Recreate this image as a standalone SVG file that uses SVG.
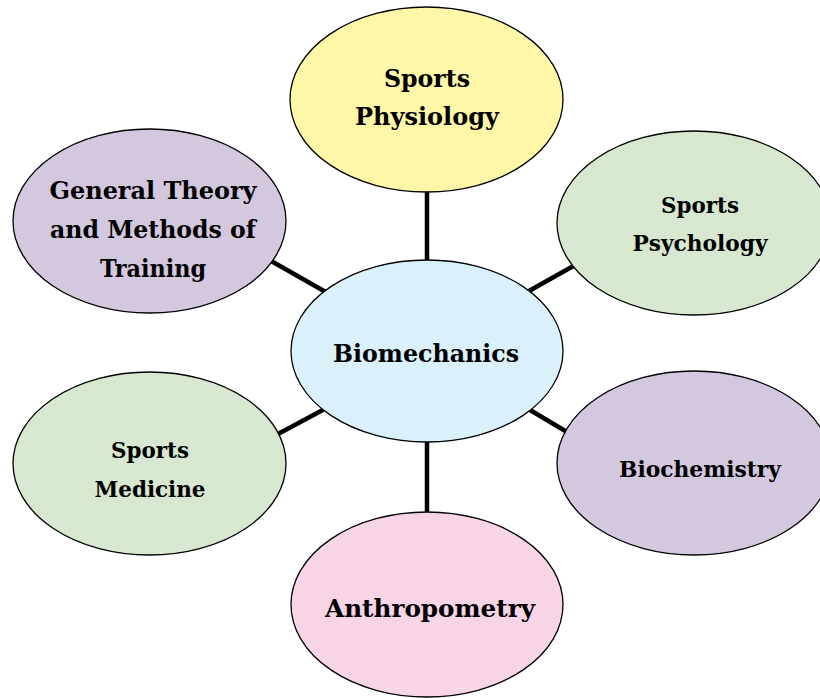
<svg xmlns="http://www.w3.org/2000/svg" width="820" height="698" viewBox="0 0 820 698">
<style>
.node ellipse{stroke:#000;stroke-width:1.3}
.conn line{stroke:#000;stroke-width:4.5;stroke-linecap:butt}
text{font-family:"DejaVu Serif Condensed","DejaVu Serif","Liberation Serif",serif;font-weight:bold;font-stretch:condensed;fill:#000;text-anchor:middle}
.big{font-size:25px}
.mid{font-size:24px}
.sm{font-size:23px}
</style>
<rect width="820" height="698" fill="#fff"/>
<g id="connectors" class="conn">
<line x1="427" y1="185" x2="427" y2="268"/>
<line x1="427" y1="435" x2="427" y2="520"/>
<line x1="265" y1="257.5" x2="335" y2="297.3"/>
<line x1="520" y1="296" x2="585" y2="259.5"/>
<line x1="272" y1="437.3" x2="333" y2="404.6"/>
<line x1="520" y1="404" x2="577" y2="438"/>
</g>
<g id="sports-physiology" class="node">
<ellipse cx="426.5" cy="99.5" rx="136.5" ry="92.5" fill="#FFF7A8"/>
<text class="big" x="427" y="87" textLength="86" lengthAdjust="spacingAndGlyphs">Sports</text>
<text class="big" x="427" y="125" textLength="144" lengthAdjust="spacingAndGlyphs">Physiology</text>
</g>
<g id="sports-psychology" class="node">
<ellipse cx="694" cy="223" rx="137" ry="92" fill="#D7E7D0"/>
<text class="sm" x="700" y="213" textLength="78" lengthAdjust="spacingAndGlyphs">Sports</text>
<text class="sm" x="700" y="251" textLength="135" lengthAdjust="spacingAndGlyphs">Psychology</text>
</g>
<g id="general-theory" class="node">
<ellipse cx="149.5" cy="221" rx="136.5" ry="92" fill="#D4C8DF"/>
<text class="mid" x="153" y="199" textLength="207" lengthAdjust="spacingAndGlyphs">General Theory</text>
<text class="mid" x="153" y="238" textLength="206" lengthAdjust="spacingAndGlyphs">and Methods of</text>
<text class="mid" x="153" y="277" textLength="106" lengthAdjust="spacingAndGlyphs">Training</text>
</g>
<g id="biomechanics" class="node">
<ellipse cx="427" cy="351" rx="136" ry="91" fill="#DAF0FB"/>
<text class="big" x="426" y="362" textLength="186" lengthAdjust="spacingAndGlyphs">Biomechanics</text>
</g>
<g id="sports-medicine" class="node">
<ellipse cx="149.5" cy="463.5" rx="136.5" ry="91.5" fill="#D7E7D0"/>
<text class="sm" x="150" y="458" textLength="78" lengthAdjust="spacingAndGlyphs">Sports</text>
<text class="sm" x="150" y="497" textLength="111" lengthAdjust="spacingAndGlyphs">Medicine</text>
</g>
<g id="biochemistry" class="node">
<ellipse cx="694" cy="463" rx="137" ry="92" fill="#D4C8DF"/>
<text class="sm" x="700" y="477" textLength="162" lengthAdjust="spacingAndGlyphs">Biochemistry</text>
</g>
<g id="anthropometry" class="node">
<ellipse cx="427" cy="604.5" rx="136" ry="92.5" fill="#F8D4E7"/>
<text class="big" x="430" y="617" textLength="210" lengthAdjust="spacingAndGlyphs">Anthropometry</text>
</g>
</svg>
